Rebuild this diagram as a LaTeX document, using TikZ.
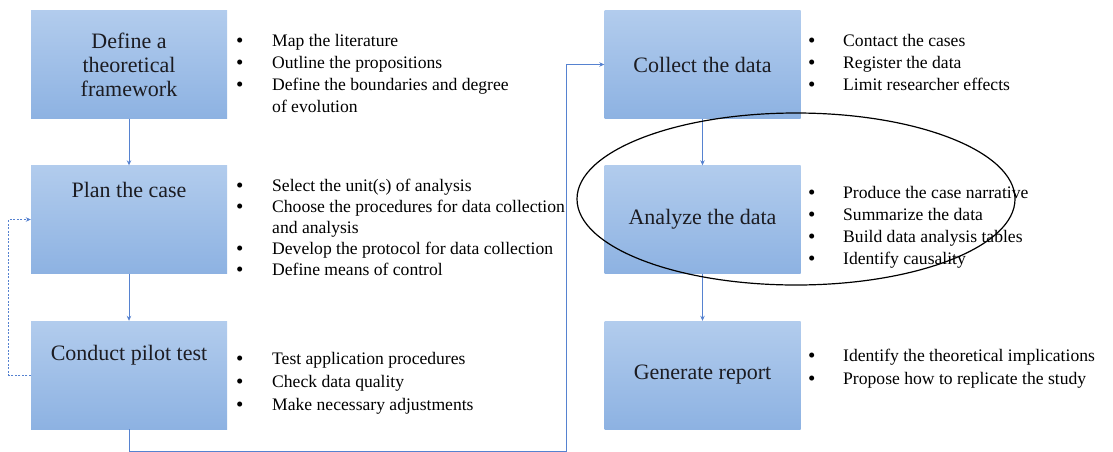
\documentclass[tikz,border=0pt]{standalone}
\usepackage{fontspec}
\setmainfont{Liberation Serif}
\usetikzlibrary{positioning}
\usetikzlibrary{arrows.meta}

\definecolor{boxtop}{RGB}{178,204,237}
\definecolor{boxbot}{RGB}{141,178,226}
\definecolor{linkblue}{RGB}{86,130,208}
\definecolor{titleink}{RGB}{28,28,34}

\newcommand{\bdot}{\smash{\raisebox{-1pt}{\fontsize{21}{21}\selectfont\textbullet}}}

\tikzset{
  stepbox/.style={minimum width=196pt, minimum height=108pt, inner sep=0pt, draw=none,
    top color=boxtop, bottom color=boxbot, text=titleink, align=center,
    font=\fontsize{22}{24}\selectfont},
  boxtitle/.style={inner sep=0pt, anchor=base, text=titleink, font=\fontsize{22}{24}\selectfont},
  bul/.style={inner sep=0pt, anchor=base west, font=\fontsize{17.6}{22}\selectfont},
  link/.style={linkblue, line width=0.8pt, -{Stealth[length=5pt,width=4.5pt]}},
  fb/.style={link, dash pattern=on 2pt off 1.5pt, line width=0.7pt},
}

\begin{document}
\begin{tikzpicture}[x=1pt,y=-1pt]
\useasboundingbox (0,0) rectangle (1113,451);

% left column
\node[stepbox] (define) at (129,64.5) {Define a\\theoretical\\framework};
\node[stepbox] (plan) at (129,219.5) {};
\node[stepbox] (pilot) at (129,375) {};
\node[boxtitle] (plantitle) at (129,197) {Plan the case};
\node[boxtitle] (pilottitle) at (129,360) {Conduct pilot test};

% right column
\node[stepbox] (collect) at (702.5,64.5) {Collect the data};
\node[stepbox] (analyze) at (702.5,219.5) {Analyze the data};
\node[stepbox] (report) at (702.5,375) {Generate report};

\node[bul] (lit) at (236,46) {\begin{tabular}[t]{@{}p{36pt}@{}l@{}}
\bdot & Map the literature\\
\bdot & Outline the propositions\\
\bdot & Define the boundaries and degree\\
 & of evolution
\end{tabular}};

\node[bul, font=\fontsize{17.6}{21}\selectfont] (unit) at (236,191) {\begin{tabular}[t]{@{}p{36pt}@{}l@{}}
\bdot & Select the unit(s) of analysis\\
\bdot & Choose the procedures for data collection\\
 & and analysis\\
\bdot & Develop the protocol for data collection\\
\bdot & Define means of control
\end{tabular}};

\node[bul, font=\fontsize{17.6}{23}\selectfont] (test) at (236,364) {\begin{tabular}[t]{@{}p{36pt}@{}l@{}}
\bdot & Test application procedures\\
\bdot & Check data quality\\
\bdot & Make necessary adjustments
\end{tabular}};

\node[bul] (cases) at (808,46) {\begin{tabular}[t]{@{}p{35pt}@{}l@{}}
\bdot & Contact the cases\\
\bdot & Register the data\\
\bdot & Limit researcher effects
\end{tabular}};

\node[bul] (narr) at (808,198) {\begin{tabular}[t]{@{}p{35pt}@{}l@{}}
\bdot & Produce the case narrative\\
\bdot & Summarize the data\\
\bdot & Build data analysis tables\\
\bdot & Identify causality
\end{tabular}};

\node[bul, font=\fontsize{17.6}{23}\selectfont] (impl) at (808,361) {\begin{tabular}[t]{@{}p{35pt}@{}l@{}}
\bdot & Identify the theoretical implications\\
\bdot & Propose how to replicate the study
\end{tabular}};

% connectors
\draw[link] (define) -- (plan);
\draw[link] (plan) -- (pilot);
\draw[fb] (pilot.west) -- ++(-22,0) |- (plan.west);
\draw[link] (pilot.south) -- ++(0,22.6) -| ([xshift=-38pt]collect.west) -- (collect.west);
\draw[link] (collect) -- (analyze);
\draw[link] (analyze) -- (report);

% highlight
\draw[black, line width=1.2pt] (796,199) ellipse [x radius=219, y radius=86];

\end{tikzpicture}
\end{document}
